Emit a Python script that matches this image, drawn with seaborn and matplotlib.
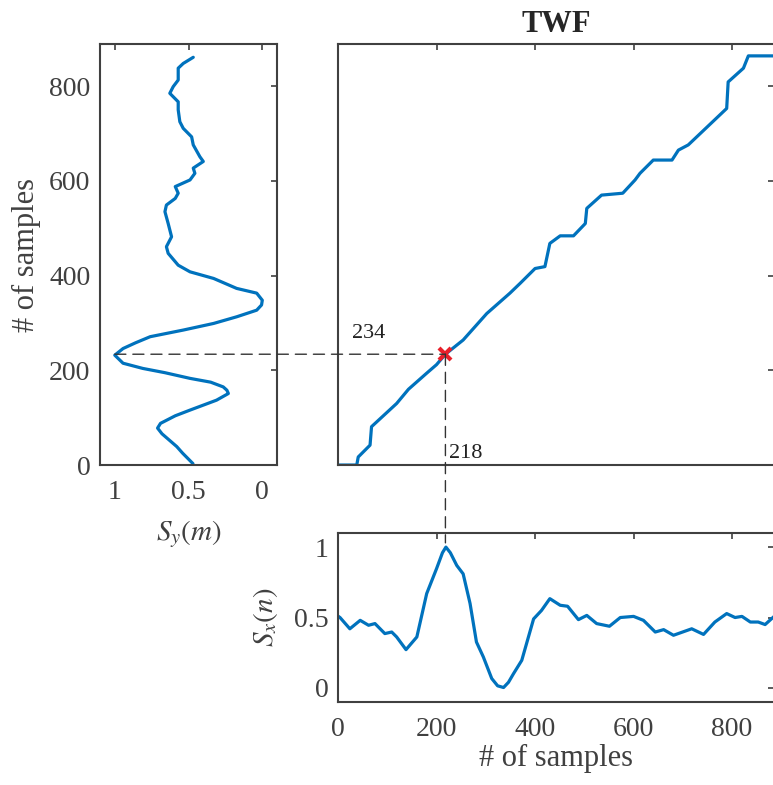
import numpy as np
import matplotlib
matplotlib.use('Agg')
import matplotlib.pyplot as plt
from matplotlib.patches import ConnectionPatch
import seaborn as sns
import pandas as pd


# S_y(m): вертикальный профиль (значение, номер отсчета)
sy_val = [0.47, 0.54, 0.58, 0.68, 0.71, 0.69, 0.59, 0.49, 0.31, 0.23, 0.24, 0.265, 0.35, 0.49,
          0.66, 0.81, 0.944, 1.0, 0.944, 0.86, 0.76, 0.536, 0.33, 0.174, 0.038, 0.005, 0.0,
          0.038, 0.174, 0.33, 0.49, 0.57, 0.638, 0.65, 0.615, 0.638, 0.66, 0.65, 0.59, 0.57,
          0.59, 0.49, 0.457, 0.468, 0.40, 0.423, 0.468, 0.479, 0.536, 0.559, 0.57, 0.57,
          0.627, 0.604, 0.57, 0.57, 0.536, 0.468]
sy_m = [3, 25, 39, 66, 78, 88, 104, 116, 137, 151, 158, 165, 175, 183,
        195, 204, 215, 232, 246, 258, 271, 285, 299, 313, 327, 338, 348,
        363, 373, 394, 408, 422, 447, 461, 482, 510, 535, 549, 563, 574,
        588, 602, 616, 627, 641, 651, 676, 693, 711, 725, 750, 767,
        785, 799, 813, 838, 848, 861]

# S_x(n): горизонтальный профиль
sx_n = [0, 4, 24, 45, 62, 75, 95, 109, 119, 138, 160, 180, 200, 212, 219, 228, 241, 254, 268,
        281, 295, 312, 324, 336, 346, 356, 373, 397, 413, 430, 451, 466, 488, 505, 525,
        551, 573, 600, 620, 644, 661, 681, 718, 742, 765, 789, 806, 820, 837, 853, 867, 886]
sx_val = [0.51, 0.50, 0.42, 0.48, 0.445, 0.457, 0.386, 0.397, 0.362, 0.272, 0.362, 0.67, 0.847,
          0.96, 1.0, 0.96, 0.87, 0.81, 0.60, 0.326, 0.22, 0.067, 0.015, 0.003, 0.04, 0.10,
          0.196, 0.49, 0.55, 0.634, 0.587, 0.58, 0.485, 0.515, 0.457, 0.438, 0.50, 0.508,
          0.48, 0.397, 0.414, 0.374, 0.42, 0.38, 0.468, 0.528, 0.50, 0.508, 0.468, 0.468,
          0.45, 0.51]

# путь деформации (TWF)
path_x = [0, 38, 41, 65, 68, 119, 143, 180, 200, 218, 254, 302, 349, 370, 400, 420, 430,
          451, 478, 502, 505, 535, 578, 603, 613, 640, 678, 691, 711, 789, 792, 823, 833, 886]
path_y = [0, 0, 17, 42, 81, 130, 160, 194, 212, 234, 264, 320, 363, 384, 415, 419, 468,
          484, 484, 510, 542, 570, 574, 602, 616, 644, 644, 665, 676, 753, 809, 838, 864, 864]

point_n = 218
point_m = 234
n_max = 886

blue = '#0072BD'
grey = '#404040'

sns.set_style('white')
plt.rcParams['font.family'] = ['Liberation Serif', 'DejaVu Serif']
plt.rcParams['mathtext.fontset'] = 'stix'

fig = plt.figure(figsize=(7.73, 7.85), dpi=100)
ax_l = fig.add_axes([0.1294, 0.4076, 0.229, 0.5363])
ax_m = fig.add_axes([0.4373, 0.4076, 0.5646, 0.5363])
ax_b = fig.add_axes([0.4373, 0.1057, 0.5646, 0.2153])

df_l = pd.DataFrame({'s': sy_val, 'm': sy_m})
df_b = pd.DataFrame({'n': sx_n, 's': sx_val})
df_p = pd.DataFrame({'n': path_x, 'm': path_y})

sns.lineplot(data=df_l, x='s', y='m', sort=False, estimator=None, color=blue, lw=2.3, ax=ax_l)
sns.lineplot(data=df_p, x='n', y='m', sort=False, estimator=None, color=blue, lw=2.3, ax=ax_m)
sns.lineplot(data=df_b, x='n', y='s', sort=False, estimator=None, color=blue, lw=2.3, ax=ax_b)

ax_l.set_xlim(1.1, -0.1)
ax_l.set_ylim(0, 889)
ax_l.set_xticks([1, 0.5, 0])
ax_l.set_xticklabels(['1', '0.5', '0'])
ax_l.set_yticks([0, 200, 400, 600, 800])
ax_l.set_xlabel('$S_y(m)$', fontsize=21, color=grey, labelpad=9)
ax_l.set_ylabel('# of samples', fontsize=22, color=grey, labelpad=6)

ax_m.set_xlim(0, n_max)
ax_m.set_ylim(0, 889)
ax_m.set_xticks([0, 200, 400, 600, 800])
ax_m.set_yticks([0, 200, 400, 600, 800])
ax_m.set_xticklabels([])
ax_m.set_yticklabels([])
ax_m.set_xlabel('')
ax_m.set_ylabel('')
ax_m.set_title('TWF', fontsize=22, fontweight='bold', pad=9)

ax_b.set_xlim(0, n_max)
ax_b.set_ylim(-0.1, 1.1)
ax_b.set_xticks([0, 200, 400, 600, 800])
ax_b.set_yticks([0, 0.5, 1])
ax_b.set_yticklabels(['0', '0.5', '1'])
ax_b.set_xlabel('# of samples', fontsize=22, color=grey, labelpad=1)
ax_b.set_ylabel('$S_x(n)$', fontsize=21, color=grey, labelpad=10)

for ax in (ax_l, ax_m, ax_b):
    for sp in ax.spines.values():
        sp.set_color(grey)
        sp.set_linewidth(1.5)
    ax.tick_params(direction='in', length=4.5, width=1.2, color=grey, labelcolor=grey,
                   labelsize=20, top=True, right=True)
    ax.tick_params(axis='x', pad=11)
    ax.tick_params(axis='y', pad=7)

# маркер и пунктирные линии
ax_m.plot(point_n, point_m, marker='x', color='#e8202a', ms=9, mew=3, zorder=5)
dash = dict(color='#333333', lw=1, linestyle=(0, (8, 5)))
con1 = ConnectionPatch(xyA=(1.0, point_m), coordsA=ax_l.transData,
                       xyB=(point_n, point_m), coordsB=ax_m.transData, **dash)
con2 = ConnectionPatch(xyA=(point_n, point_m), coordsA=ax_m.transData,
                       xyB=(point_n, 1.03), coordsB=ax_b.transData, **dash)
fig.add_artist(con1)
fig.add_artist(con2)
ax_m.text(28, 258, str(point_m), fontsize=16, color='#222222', va='bottom', ha='left')
ax_m.text(point_n + 8, 4, str(point_n), fontsize=16, color='#222222', va='bottom', ha='left')

fig.savefig('out.png', dpi=100)
